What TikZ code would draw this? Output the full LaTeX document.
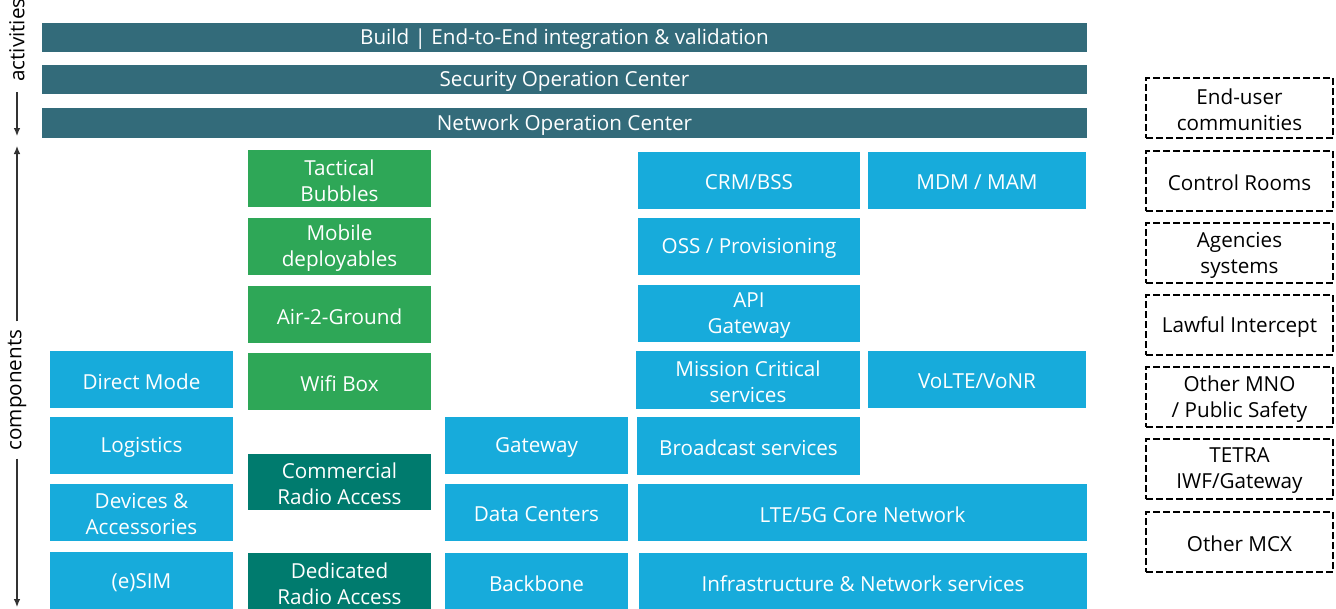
\documentclass[tikz,border=0pt]{standalone}
\usepackage{fontspec}
\setmainfont{Open Sans}
\usetikzlibrary{fit,arrows.meta}

\definecolor{barcol}{RGB}{51,107,122}
\definecolor{compblue}{RGB}{23,171,219}
\definecolor{compgreen}{RGB}{46,167,87}
\definecolor{radioteal}{RGB}{0,123,110}
\definecolor{axiscol}{RGB}{50,50,50}

\begin{document}
\begin{tikzpicture}[x=0.75pt,y=-0.75pt,
    font=\fontsize{15.5}{19.5}\selectfont,
    blk/.style={inner sep=0pt},
    lbl/.style={text=white,align=center,inner sep=0pt,yshift=-1.5pt},
    xlbl/.style={text=black,align=center,inner sep=0pt,yshift=-1.5pt},
    bar/.style={blk,fill=barcol},
    comp/.style={blk,fill=compblue},
    mobi/.style={blk,fill=compgreen},
    radio/.style={blk,fill=radioteal},
    ext/.style={inner sep=0pt,draw=black,line width=1.3pt,dash pattern=on 5pt off 2.5pt},
    axis/.style={draw=axiscol,line width=0.9pt,-{Latex[length=6pt,width=5pt]}}]
    \useasboundingbox (0,0) rectangle (1336,608);

    % activities
    \node[bar,fit={(42,23) (1087,52)},label={[lbl]center:Build | End-to-End integration \& validation}] (build) {};
    \node[bar,fit={(42,65) (1087,94)},label={[lbl]center:Security Operation Center}] (soc) {};
    \node[bar,fit={(42,108) (1087,138)},label={[lbl]center:Network Operation Center}] (noc) {};

    % left column
    \node[comp,fit={(50,351) (233,408)},label={[lbl]center:Direct Mode}] (direct) {};
    \node[comp,fit={(50,417) (233,474)},label={[lbl]center:Logistics}] (logistics) {};
    \node[comp,fit={(50,484) (233,541)},label={[lbl]center:Devices \&\\Accessories}] (devices) {};
    \node[comp,fit={(50,552) (233,610)},label={[lbl]center:(e)SIM}] (esim) {};

    % deployables and radio access
    \node[mobi,fit={(248,150) (431,207)},label={[lbl]center:Tactical\\Bubbles}] (tactical) {};
    \node[mobi,fit={(248,218) (431,275)},label={[lbl]center:Mobile\\deployables}] (mobile) {};
    \node[mobi,fit={(248,286) (431,343)},label={[lbl]center:Air-2-Ground}] (air) {};
    \node[mobi,fit={(248,353) (431,410)},label={[lbl]center:Wifi Box}] (wifi) {};
    \node[radio,fit={(248,454) (431,510)},label={[lbl]center:Commercial\\Radio Access}] (commercial) {};
    \node[radio,fit={(248,553) (431,611)},label={[lbl]center:Dedicated\\Radio Access}] (dedicated) {};

    % infrastructure
    \node[comp,fit={(445,417) (628,474)},label={[lbl]center:Gateway}] (gateway) {};
    \node[comp,fit={(445,484) (628,541)},label={[lbl]center:Data Centers}] (datacenters) {};
    \node[comp,fit={(445,553) (628,611)},label={[lbl]center:Backbone}] (backbone) {};

    % services
    \node[comp,fit={(638,152) (860,209)},label={[lbl]center:CRM/BSS}] (crm) {};
    \node[comp,fit={(638,218) (860,275)},label={[lbl]center:OSS / Provisioning}] (oss) {};
    \node[comp,fit={(638,285) (860,342)},label={[lbl]center:API\\Gateway}] (api) {};
    \node[comp,fit={(636,351) (860,409)},label={[lbl]center:Mission Critical\\services}] (mission) {};
    \node[comp,fit={(637,417) (860,475)},label={[lbl]center:Broadcast services}] (broadcast) {};
    \node[comp,fit={(868,152) (1086,209)},label={[lbl]center:MDM / MAM}] (mdm) {};
    \node[comp,fit={(868,351) (1086,408)},label={[lbl]center:VoLTE/VoNR}] (volte) {};
    \node[comp,fit={(638,484) (1087,541)},label={[lbl]center:LTE/5G Core Network}] (core) {};
    \node[comp,fit={(639,553) (1087,611)},label={[lbl]center:Infrastructure \& Network services}] (infra) {};

    % external parties
    \node[ext,fit={(1146,78) (1333,138)},label={[xlbl]center:End-user\\communities}] (enduser) {};
    \node[ext,fit={(1146,151) (1333,211)},label={[xlbl]center:Control Rooms}] (control) {};
    \node[ext,fit={(1146,223) (1333,283)},label={[xlbl]center:Agencies\\systems}] (agencies) {};
    \node[ext,fit={(1146,295) (1333,355)},label={[xlbl]center:Lawful Intercept}] (lawful) {};
    \node[ext,fit={(1146,367) (1333,427)},label={[xlbl]center:Other MNO\\/ Public Safety}] (othermno) {};
    \node[ext,fit={(1146,439) (1333,499)},label={[xlbl]center:TETRA\\IWF/Gateway}] (tetra) {};
    \node[ext,fit={(1146,512) (1333,572)},label={[xlbl]center:Other MCX}] (othermcx) {};

    % axis
    \node[rotate=90,anchor=west,inner sep=0pt] (actlabel) at (17,82) {activities};
    \node[rotate=90,inner sep=0pt] (complabel) at (17,390) {components};
    \coordinate (actend) at (17,136);
    \coordinate (comptop) at (17,146);
    \coordinate (compend) at (17,607);
    \draw[axis] (actlabel.west) ++(0,10) -- (actend);
    \draw[axis] (complabel.east) ++(0,-8) -- (comptop);
    \draw[axis] (complabel.west) ++(0,8) -- (compend);
\end{tikzpicture}
\end{document}
